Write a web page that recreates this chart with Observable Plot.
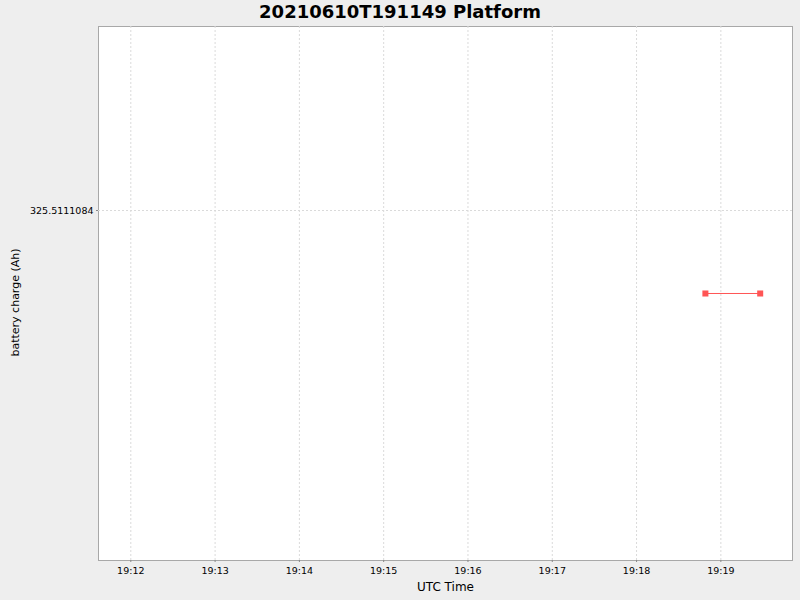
<!DOCTYPE html>
<html>
<head>
<meta charset="utf-8">
<script src="https://cdn.jsdelivr.net/npm/d3@7"></script>
<script src="https://cdn.jsdelivr.net/npm/@observablehq/plot@0.6"></script>
<style>
  html, body { margin: 0; padding: 0; background: #eeeeee; }
  #wrap { width: 800px; height: 600px; background: #eeeeee; }
  #title { height: 24px; padding-top: 1px; line-height: 25px; text-align: center; font: bold 18px "DejaVu Sans", sans-serif; color: #000; }
</style>
</head>
<body>
<div id="wrap">
  <div id="title">20210610T191149 Platform</div>
  <div id="chart"></div>
</div>
<script>
// Data
const times = ["2021-06-10T19:18:49Z", "2021-06-10T19:19:28Z"];
const charge = [325.511108398446, 325.511108398446];
const xDomain = ["2021-06-10T19:11:37Z", "2021-06-10T19:19:51Z"];
const yDomain = [325.511108393446, 325.511108403446];
const yTicks = [325.5111084];
const xTickStart = "2021-06-10T19:12:00Z";
const xTickEnd = "2021-06-10T19:19:30Z";

const data = times.map((t, i) => ({ t: new Date(t), v: charge[i] }));
const xTicks = d3.utcMinute.range(new Date(xTickStart), new Date(xTickEnd));

const chart = Plot.plot({
  width: 800,
  height: 575,
  marginLeft: 98,
  marginRight: 8,
  marginTop: 1,
  marginBottom: 40,
  style: { background: "#eeeeee", fontFamily: "DejaVu Sans, sans-serif", fontSize: "9.5px", color: "#000" },
  x: { type: "utc", domain: xDomain.map(d => new Date(d)) },
  y: { domain: yDomain },
  marks: [
    Plot.frame({ fill: "white", stroke: "#a8a8a8" }),
    Plot.gridX(xTicks, { stroke: "#dadada", strokeOpacity: 1, strokeWidth: 1, strokeDasharray: "2,2" }),
    Plot.gridY(yTicks, { stroke: "#dadada", strokeOpacity: 1, strokeWidth: 1, strokeDasharray: "2,2" }),
    Plot.line(data, { x: "t", y: "v", stroke: "#ff5555", strokeWidth: 1 }),
    Plot.dot(data, { x: "t", y: "v", symbol: "square", r: 3.4, fill: "#ff5555", stroke: "none" }),
    Plot.axisX({
      ticks: xTicks, tickFormat: d3.utcFormat("%H:%M"), tickSize: 2, tickPadding: 5,
      stroke: "#888", line: true,
      label: "UTC Time", labelAnchor: "center", labelArrow: "none", labelOffset: 30,
      fontSize: 9.5
    }),
    Plot.axisY({
      ticks: yTicks, tickFormat: d => d3.format(".7f")(d), tickSize: 2, tickPadding: 3,
      stroke: "#888", line: true,
      label: "battery charge (Ah)", labelAnchor: "center", labelArrow: "none", labelOffset: 87,
      fontSize: 9.5
    })
  ]
});
// axis label fonts
chart.querySelectorAll("g[aria-label='x-axis label']").forEach(g => g.setAttribute("font-size", "12px"));
chart.querySelectorAll("g[aria-label='x-axis label'] text").forEach(t => t.setAttribute("font-size", "12px"));
chart.querySelectorAll("g[aria-label='y-axis label']").forEach(g => g.setAttribute("font-size", "11px"));
chart.querySelectorAll("g[aria-label='y-axis label'] text").forEach(t => {
  t.setAttribute("font-size", "11px");
  t.setAttribute("transform", (t.getAttribute("transform") || "") + " translate(-9,0)");
});
document.getElementById("chart").appendChild(chart);
</script>
</body>
</html>
